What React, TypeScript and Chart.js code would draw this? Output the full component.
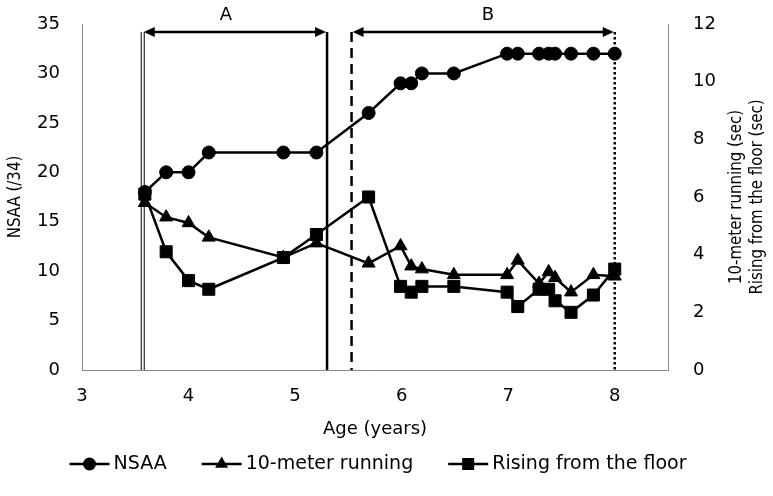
import React, { useEffect, useRef } from "react";
import { Chart, registerables } from "chart.js";

Chart.register(...registerables);

// ---- Data ----
const ages = [3.59, 3.79, 4.0, 4.19, 4.89, 5.2, 5.69, 5.99, 6.09, 6.19, 6.49, 6.99, 7.09, 7.29, 7.38, 7.44, 7.59, 7.8, 8.0];
const nsaa = [18, 20, 20, 22, 22, 22, 26, 29, 29, 30, 30, 32, 32, 32, 32, 32, 32, 32, 32];
const run10m = [5.8, 5.3, 5.1, 4.6, 3.9, 4.4, 3.7, 4.3, 3.6, 3.5, 3.3, 3.3, 3.8, 3.0, 3.4, 3.2, 2.7, 3.3, 3.25];
const rising = [6.1, 4.1, 3.1, 2.8, 3.9, 4.7, 6.0, 2.9, 2.7, 2.9, 2.9, 2.7, 2.2, 2.8, 2.8, 2.4, 2.0, 2.6, 3.5];

const seriesNames = ["NSAA", "10-meter running", "Rising from the floor"];
const pointStyles = ["circle", "triangle", "rect"];
const xTitle = "Age (years)";
const yLeftTitle = "NSAA (/34)";
const yRightTitle = ["10-meter running (sec)", "Rising from the floor (sec)"];

// Phase annotations (x in years)
const phaseLabels = ["A", "B"];
const phaseStart = [3.57, 5.53];
const phaseEnd = [5.3, 8.0];
const phaseLabelX = [4.35, 6.81];
const arrowLevel = 34.2; // on the NSAA axis
const labelLevel = 35.9;

const FONT = "'DejaVu Sans', sans-serif";

function drawMarker(ctx: CanvasRenderingContext2D, style: string, x: number, y: number, r: number) {
  ctx.beginPath();
  if (style === "circle") {
    ctx.arc(x, y, r, 0, Math.PI * 2);
  } else if (style === "triangle") {
    for (let i = 0; i < 3; i++) {
      const a = (i * 2 * Math.PI) / 3;
      const px = x + Math.sin(a) * r;
      const py = y - Math.cos(a) * r;
      if (i === 0) ctx.moveTo(px, py);
      else ctx.lineTo(px, py);
    }
    ctx.closePath();
  } else {
    const s = r * Math.SQRT1_2;
    ctx.rect(x - s, y - s, 2 * s, 2 * s);
  }
  ctx.fill();
}

function arrowHead(ctx: CanvasRenderingContext2D, x: number, y: number, dir: number) {
  ctx.beginPath();
  ctx.moveTo(x, y);
  ctx.lineTo(x - dir * 11, y - 5);
  ctx.lineTo(x - dir * 11, y + 5);
  ctx.closePath();
  ctx.fill();
}

function vText(ctx: CanvasRenderingContext2D, text: string, x: number, y: number) {
  ctx.save();
  ctx.translate(x, y);
  ctx.rotate(-Math.PI / 2);
  ctx.scale(1, 1.2);
  ctx.fillText(text, 0, 0);
  ctx.restore();
}

export default function App() {
  const ref = useRef<HTMLCanvasElement>(null);

  useEffect(() => {
    const canvas = ref.current!;
    const radii = [6.5, 7.5, 8.5];

    const overlay = {
      id: "overlay",
      beforeDatasetsDraw(chart: any) {
        const ctx: CanvasRenderingContext2D = chart.ctx;
        const xs = chart.scales.x;
        const ys = chart.scales.y;
        const bottom = chart.chartArea.bottom;
        const top = ys.getPixelForValue(arrowLevel);
        ctx.save();
        ctx.strokeStyle = "#000";
        const xa = xs.getPixelForValue(phaseStart[0]);
        ctx.lineWidth = 1;
        ctx.beginPath();
        ctx.moveTo(xa - 1.5, top);
        ctx.lineTo(xa - 1.5, bottom);
        ctx.moveTo(xa + 1.5, top);
        ctx.lineTo(xa + 1.5, bottom);
        ctx.stroke();
        const xae = xs.getPixelForValue(phaseEnd[0]);
        ctx.lineWidth = 2.5;
        ctx.beginPath();
        ctx.moveTo(xae, top);
        ctx.lineTo(xae, bottom);
        ctx.stroke();
        const xb = xs.getPixelForValue(phaseStart[1]);
        ctx.setLineDash([10, 6]);
        ctx.beginPath();
        ctx.moveTo(xb, top);
        ctx.lineTo(xb, bottom);
        ctx.stroke();
        const xbe = xs.getPixelForValue(phaseEnd[1]);
        ctx.setLineDash([2.5, 2.5]);
        ctx.beginPath();
        ctx.moveTo(xbe, top);
        ctx.lineTo(xbe, bottom);
        ctx.stroke();
        ctx.restore();
      },
      afterDraw(chart: any) {
        const ctx: CanvasRenderingContext2D = chart.ctx;
        const xs = chart.scales.x;
        const ys = chart.scales.y;
        const ca = chart.chartArea;
        ctx.save();
        ctx.fillStyle = "#000";
        ctx.strokeStyle = "#000";

        const ay = ys.getPixelForValue(arrowLevel);
        const ly = ys.getPixelForValue(labelLevel);
        for (let i = 0; i < phaseLabels.length; i++) {
          const x1 = xs.getPixelForValue(phaseStart[i]) + 1;
          const x2 = xs.getPixelForValue(phaseEnd[i]) - 1;
          ctx.lineWidth = 2.5;
          ctx.setLineDash([]);
          ctx.beginPath();
          ctx.moveTo(x1 + 6, ay);
          ctx.lineTo(x2 - 6, ay);
          ctx.stroke();
          arrowHead(ctx, x1, ay, -1);
          arrowHead(ctx, x2, ay, 1);
          ctx.font = `18px ${FONT}`;
          ctx.textAlign = "center";
          ctx.textBaseline = "middle";
          ctx.fillText(phaseLabels[i], xs.getPixelForValue(phaseLabelX[i]), ly);
        }

        const cy = (ca.top + ca.bottom) / 2;
        ctx.font = `15px ${FONT}`;
        ctx.textAlign = "center";
        ctx.textBaseline = "middle";
        vText(ctx, yLeftTitle, 15, cy);
        vText(ctx, yRightTitle[0], 736, cy);
        vText(ctx, yRightTitle[1], 757, cy);

        ctx.font = `18px ${FONT}`;
        ctx.fillText(xTitle, (ca.left + ca.right) / 2, 429);

        ctx.font = `19px ${FONT}`;
        ctx.textAlign = "left";
        const lineLen = 40;
        const gapText = 4;
        const gapItems = 35;
        const widths = seriesNames.map((n) => lineLen + gapText + ctx.measureText(n).width);
        const total = widths.reduce((a, b) => a + b, 0) + gapItems * (seriesNames.length - 1);
        let x0 = 378 - total / 2;
        const legY = 464;
        for (let i = 0; i < seriesNames.length; i++) {
          ctx.lineWidth = 2.5;
          ctx.beginPath();
          ctx.moveTo(x0, legY);
          ctx.lineTo(x0 + lineLen, legY);
          ctx.stroke();
          drawMarker(ctx, pointStyles[i], x0 + lineLen / 2, legY, radii[i]);
          ctx.fillText(seriesNames[i], x0 + lineLen + gapText, legY);
          x0 += widths[i] + gapItems;
        }
        ctx.restore();
      },
    };

    const mk = (i: number, vals: number[], axis: string, order: number) => ({
      label: seriesNames[i],
      data: ages.map((a, k) => ({ x: a, y: vals[k] })),
      yAxisID: axis,
      order,
      borderColor: "#000",
      backgroundColor: "#000",
      borderWidth: 2.5,
      pointStyle: pointStyles[i],
      pointRadius: radii[i],
      pointHoverRadius: radii[i],
      pointBorderWidth: 1,
      pointBackgroundColor: "#000",
      pointBorderColor: "#000",
      tension: 0,
      fill: false,
    });

    const chart = new Chart(canvas, {
      type: "line",
      data: {
        datasets: [mk(0, nsaa, "y", 2), mk(1, run10m, "y2", 1), mk(2, rising, "y2", 0)],
      },
      options: {
        animation: false,
        responsive: false,
        devicePixelRatio: 1,
        layout: { autoPadding: false, padding: { top: 24, left: 0, right: 0, bottom: 0 } },
        plugins: { legend: { display: false }, tooltip: { enabled: false } },
        events: [],
        scales: {
          x: {
            type: "linear",
            min: 3,
            max: 8.5,
            grid: { display: false, drawTicks: false },
            border: { display: true, color: "#888", width: 1 },
            ticks: {
              stepSize: 1,
              includeBounds: false,
              color: "#000",
              padding: 16,
              font: { family: FONT, size: 18 },
            },
            afterFit: (s: any) => {
              s.height = 126;
              s.paddingLeft = 0;
              s.paddingRight = 0;
            },
          },
          y: {
            position: "left",
            min: 0,
            max: 35,
            grid: { display: false, drawTicks: false },
            border: { display: true, color: "#888", width: 1 },
            ticks: { stepSize: 5, color: "#000", padding: 22, font: { family: FONT, size: 18 } },
            afterFit: (s: any) => {
              s.width = 82;
              s.paddingTop = 0;
              s.paddingBottom = 0;
            },
          },
          y2: {
            position: "right",
            min: 0,
            max: 12,
            grid: { display: false, drawTicks: false },
            border: { display: true, color: "#888", width: 1 },
            ticks: { stepSize: 2, color: "#000", padding: 25, font: { family: FONT, size: 18 } },
            afterFit: (s: any) => {
              s.width = 105;
              s.paddingTop = 0;
              s.paddingBottom = 0;
            },
          },
        },
      } as any,
      plugins: [overlay],
    });
    return () => chart.destroy();
  }, []);

  return (
    <div style={{ position: "absolute", left: 0, top: 0, width: 773, height: 496, background: "#fff" }}>
      <canvas ref={ref} width={773} height={496} style={{ display: "block", width: 773, height: 496 }} />
    </div>
  );
}
